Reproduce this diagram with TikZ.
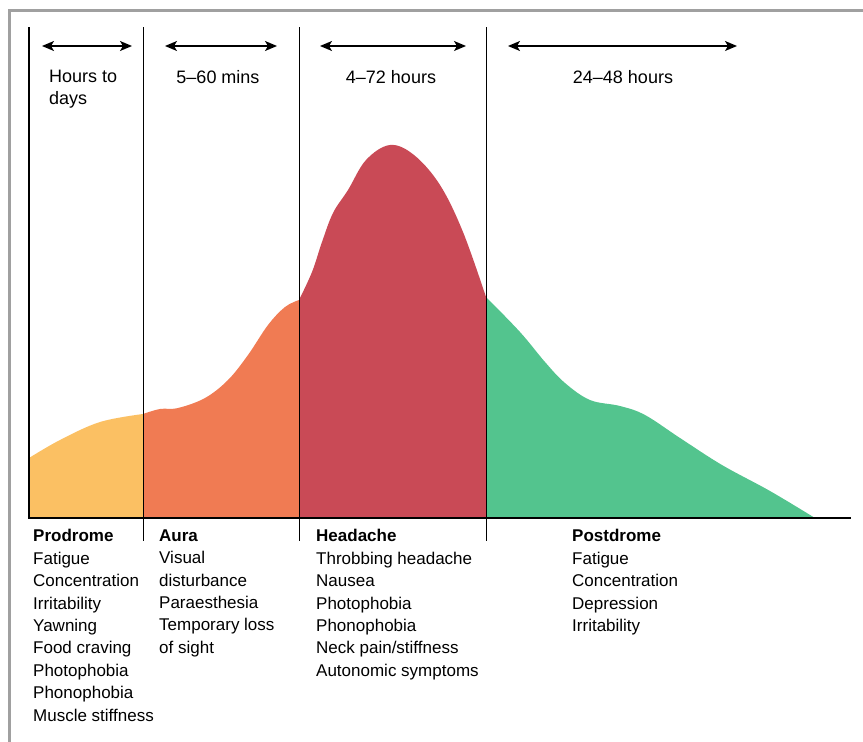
\documentclass[tikz,border=0pt]{standalone}
\usepackage{fontspec}
\setmainfont{Liberation Sans}
\usetikzlibrary{arrows.meta}
\definecolor{prodyellow}{HTML}{FBC063}
\definecolor{auraorange}{HTML}{F07B53}
\definecolor{headred}{HTML}{C94A56}
\definecolor{postgreen}{HTML}{53C48E}
\definecolor{framegray}{HTML}{A0A0A0}
\tikzset{
  divider/.style={black,line width=1pt},
  span/.style={{Stealth[length=12pt,width=10pt,inset=3pt]}-{Stealth[length=12pt,width=10pt,inset=3pt]},line width=1.4pt},
  lbl/.style={inner sep=0pt,font=\fontsize{17}{22.4}\selectfont},
  timelbl/.style={inner sep=0pt,font=\fontsize{18}{22}\selectfont},
  list/.style={lbl,anchor=north west,align=left}
}
\begin{document}
\begin{tikzpicture}[x=1pt,y=-1pt]
\path[use as bounding box] (0,0) rectangle (863,742);
\draw[framegray,line width=3pt] (9.5,742) -- (9.5,10) -- (863,10);
\fill[prodyellow] (29,518) -- plot[smooth,tension=0.6] coordinates {(29,458) (60,440) (100,422) (143,414)} -- (143,518) -- cycle;
\fill[auraorange] (143,518) -- plot[smooth,tension=0.6] coordinates {(143,414) (160,409) (178,408) (205,398) (228,380) (248,355) (268,325) (285,307) (299,300)} -- (299,518) -- cycle;
\fill[headred] (299,518) -- plot[smooth,tension=0.6] coordinates {(299,300) (312,272) (322,242) (333,213) (348,190) (366,160) (390,145) (414,155) (440,185) (463,232) (486,297)} -- (486,518) -- cycle;
\fill[postgreen] (486,518) -- plot[smooth,tension=0.6] coordinates {(486,297) (520,332) (545,362) (565,383) (590,400) (620,406) (645,415) (680,438) (722,465) (770,491) (815,518)} -- cycle;
\coordinate (ytop) at (29,27);
\coordinate (origin) at (29,518);
\coordinate (xend) at (851,518);
\draw[line width=2pt] (ytop) -- (origin) -- (xend);
\coordinate (d1top) at (143,27);
\coordinate (d1bot) at (143,541);
\coordinate (d2top) at (299,27);
\coordinate (d2bot) at (299,541);
\coordinate (d3top) at (486,27);
\coordinate (d3bot) at (486,541);
\draw[divider] (d1top) -- (d1bot);
\draw[divider] (d2top) -- (d2bot);
\draw[divider] (d3top) -- (d3bot);
\coordinate (p1l) at (42,46);
\coordinate (p1r) at (132,46);
\coordinate (p2l) at (165,46);
\coordinate (p2r) at (277,46);
\coordinate (p3l) at (320,46);
\coordinate (p3r) at (466,46);
\coordinate (p4l) at (508,46);
\coordinate (p4r) at (737,46);
\draw[span] (p1l) -- (p1r);
\draw[span] (p2l) -- (p2r);
\draw[span] (p3l) -- (p3r);
\draw[span] (p4l) -- (p4r);
\node[timelbl,anchor=north west,align=left] (prodtime) at (49,70.3) {Hours to\\days};
\node[timelbl,anchor=base] (auratime) at (218,83) {5--60 mins};
\node[timelbl,anchor=base] (headtime) at (391,83) {4--72 hours};
\node[timelbl,anchor=base] (posttime) at (623,83) {24--48 hours};
\node[list] (prodlist) at (33,529.4) {\textbf{Prodrome}\\Fatigue\\Concentration\\Irritability\\Yawning\\Food craving\\Photophobia\\Phonophobia\\Muscle stiffness};
\node[list] (auralist) at (159,529.4) {\textbf{Aura}\\Visual\\disturbance\\Paraesthesia\\Temporary loss\\of sight};
\node[list] (headlist) at (316,529.4) {\textbf{Headache}\\Throbbing headache\\Nausea\\Photophobia\\Phonophobia\\Neck pain/stiffness\\Autonomic symptoms};
\node[list] (postlist) at (572,529.4) {\textbf{Postdrome}\\Fatigue\\Concentration\\Depression\\Irritability};
\end{tikzpicture}
\end{document}
